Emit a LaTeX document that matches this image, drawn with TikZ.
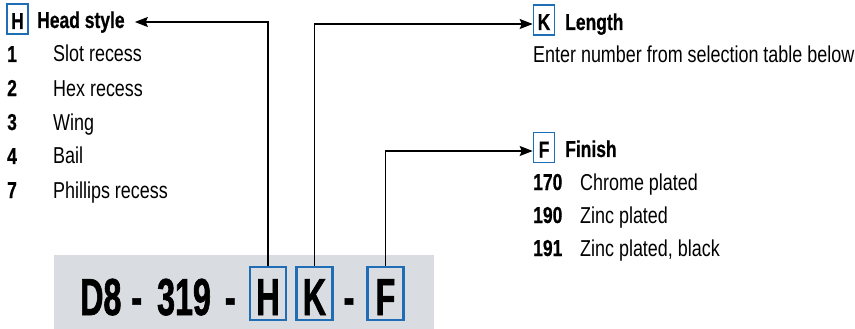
\documentclass[tikz,border=0pt]{standalone}
\usepackage{fontspec}
\setmainfont[FakeStretch=0.78]{Liberation Sans}
\newfontfamily\bigfont[FakeStretch=0.62,FakeBold=1.2]{Liberation Sans}
\newfontfamily\keyfont[FakeStretch=0.76,FakeBold=0.6]{Liberation Sans}
\usetikzlibrary{arrows.meta,positioning}
\definecolor{keyblue}{HTML}{1F6DB5}
\definecolor{partgray}{HTML}{D9DCE0}
\newcommand{\bigbold}{\bigfont\bfseries\fontsize{52}{60}\selectfont}
\newcommand{\keybold}{\keyfont\bfseries\fontsize{23}{27}\selectfont}

\begin{document}
\begin{tikzpicture}[x=1pt, y=-1pt, >={Stealth[length=13pt,width=10pt,inset=2pt]},
		lbl/.style={inner sep=0pt, text height=17pt, text depth=5pt, font=\fontsize{23}{27}\selectfont},
		lblb/.style={lbl, font=\keybold},
		keybox/.style={draw=keyblue, line width=1.6pt, inner sep=0pt, minimum width=21pt, minimum height=30pt, text height=22pt, text depth=2pt},
		bigkey/.style={draw=keyblue, line width=2.2pt, inner sep=0pt, minimum width=36pt, minimum height=53pt, text height=45pt, text depth=2pt},
		conn/.style={->, line width=1.2pt}]
		\useasboundingbox (0,0) rectangle (855,329);
		% head style list
		\node[keybox] (hkey) at (17.5,19) {\keybold H};
		\node[lblb, anchor=west] (hhead) at (37,22) {Head style};
		\foreach \num/\txt [count=\i] in {1/Slot recess, 2/Hex recess, 3/Wing, 4/Bail, 7/Phillips recess} {
			\node[lblb, anchor=west] (hnum\i) at (7,22+34*\i) {\num};
			\node[lbl, anchor=west] (htxt\i) at (53,22+34*\i) {\txt};
		}
		% length
		\node[keybox] (kkey) at (544,20) {\keybold K};
		\node[lblb, anchor=west] (khead) at (565,24) {Length};
		\node[lbl, anchor=west] (knote) at (533,57) {Enter number from selection table below};
		% finish list
		\node[keybox] (fkey) at (544,147.5) {\keybold F};
		\node[lblb, anchor=west] (fhead) at (565,151) {Finish};
		\foreach \num/\txt [count=\i] in {170/Chrome plated, 190/Zinc plated, 191/{Zinc plated, black}} {
			\node[lblb, anchor=west] (fnum\i) at (533,151+33*\i) {\num};
			\node[lbl, anchor=west] (ftxt\i) at (580,151+33*\i) {\txt};
		}
		% part number bar
		\fill[partgray] (54,255) rectangle (434,329);
		\node[anchor=base west, inner sep=0pt] (partno) at (80,315) {\bigbold D8\hspace{10pt}-\hspace{15pt}319\hspace{14pt}-};
		\node[bigkey] (bigh) at (268,293.5) {\bigbold H};
		\node[bigkey] (bigk) at (314.5,293.5) {\bigbold K};
		\node[anchor=base, inner sep=0pt] (partdash) at (349,315) {\bigbold -};
		\node[bigkey] (bigf) at (385.5,293.5) {\bigbold F};
		% connectors
		\draw[conn] (bigh.north) |- ([xshift=10pt]hhead.east);
		\draw[conn] (bigk.north) |- (kkey.west |- khead.west);
		\draw[conn] (bigf.north) |- (fkey.west |- fhead.west);
	\end{tikzpicture}
\end{document}
